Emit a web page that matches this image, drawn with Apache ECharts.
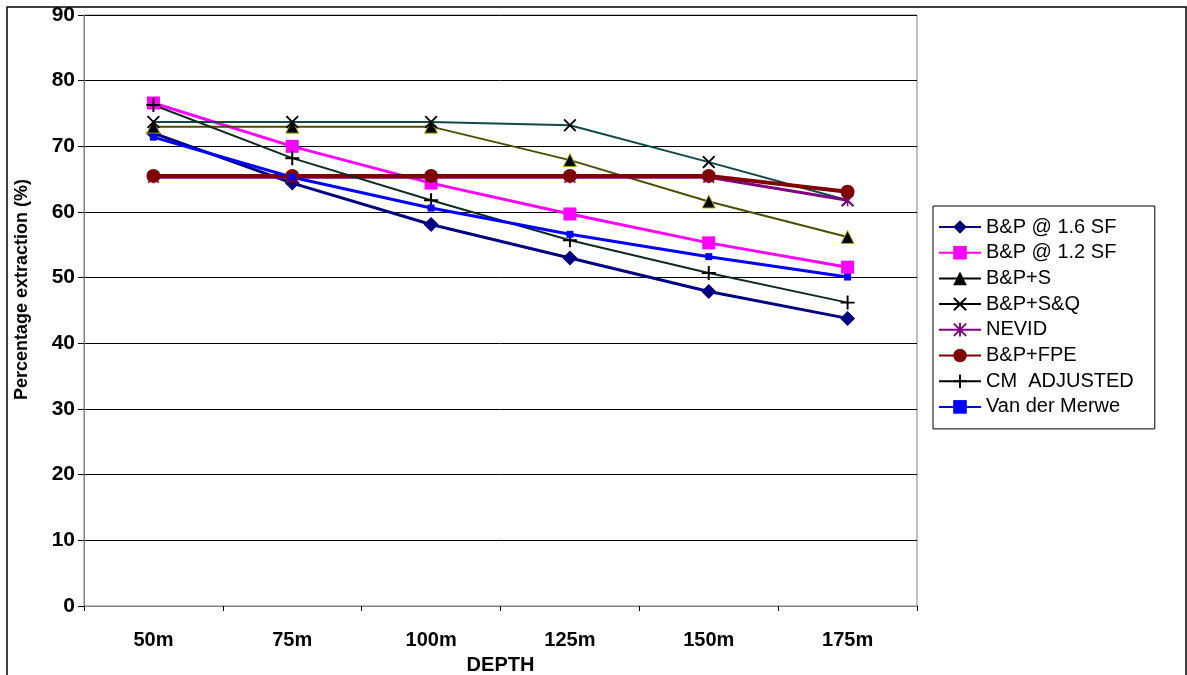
<!DOCTYPE html>
<html>
<head>
<meta charset="utf-8">
<script src="https://cdn.jsdelivr.net/npm/echarts@6/dist/echarts.min.js"></script>
<style>
html,body{margin:0;padding:0;background:#fff;}
#chart{width:1187px;height:675px;}
</style>
</head>
<body>
<div id="chart"></div>
<script>
// ---- data ----
var categories = ['50m', '75m', '100m', '125m', '150m', '175m'];
var yTicks = [0, 10, 20, 30, 40, 50, 60, 70, 80, 90];
var seriesNames = ['B&P @ 1.6 SF', 'B&P @ 1.2 SF', 'B&P+S', 'B&P+S&Q', 'NEVID', 'B&P+FPE', 'CM  ADJUSTED', 'Van der Merwe'];
var bp16 = [72.0, 64.4, 58.1, 53.0, 47.9, 43.8];
var bp12 = [76.6, 70.0, 64.4, 59.7, 55.3, 51.6];
var bpS = [73.0, 73.0, 73.0, 67.9, 61.6, 56.2];
var bpSQ = [73.7, 73.7, 73.7, 73.2, 67.6, 61.8];
var nevid = [65.3, 65.3, 65.3, 65.3, 65.3, 61.8];
var bpFPE = [65.5, 65.5, 65.5, 65.5, 65.5, 63.1];
var cmAdj = [76.3, 68.2, 61.8, 55.7, 50.7, 46.2];
var vanDerMerwe = [71.4, 65.3, 60.6, 56.6, 53.2, 50.1];

var X_PATH = 'path://M1,0 L10,9 L9,10 L0,1 Z M9,0 L10,1 L1,10 L0,9 Z';
var PLUS_PATH = 'path://M4.3,0 H5.7 V4.3 H10 V5.7 H5.7 V10 H4.3 V5.7 H0 V4.3 H4.3 Z';
var STAR_PATH = 'path://M1,0 L10,9 L9,10 L0,1 Z M9,0 L10,1 L1,10 L0,9 Z M4.3,0 L5.7,0 L5.7,10 L4.3,10 Z';

var FONT = '"Liberation Sans", Arial, sans-serif';

function mk(name, data, color, width, symbol, size, extraItem) {
  return {
    name: name, type: 'line', data: data,
    symbol: symbol, symbolSize: size, showSymbol: true,
    lineStyle: { color: color, width: width },
    itemStyle: Object.assign({ color: color, borderWidth: 0, opacity: 1 }, extraItem || {}),
    emphasis: { disabled: true },
    animation: false
  };
}

var series = [
  mk(seriesNames[0], bp16, '#000080', 3, 'diamond', 15),
  mk(seriesNames[1], bp12, '#ff00ff', 3, 'rect', 13),
  mk(seriesNames[2], bpS, '#4d4d00', 2, 'triangle', 13, { color: '#000000', borderColor: '#b5b500', borderWidth: 1 }),
  mk(seriesNames[3], bpSQ, '#104848', 2, X_PATH, 13, { color: '#000000' }),
  mk(seriesNames[4], nevid, '#800080', 3, STAR_PATH, 12),
  mk(seriesNames[5], bpFPE, '#800000', 4, 'circle', 14),
  mk(seriesNames[6], cmAdj, '#0f2a22', 2, PLUS_PATH, 14, { color: '#000000' }),
  mk(seriesNames[7], vanDerMerwe, '#0000ff', 3, 'rect', 7)
];

var legendData = seriesNames.map(function (n, i) {
  var d = { name: n };
  if (i === 2 || i === 3 || i === 6) {
    d.lineStyle = { color: '#000000', width: 2 };
    d.itemStyle = { color: '#000000', borderWidth: 0 };
  }
  return d;
});

var chart = echarts.init(document.getElementById('chart'), null, { renderer: 'canvas' });
chart.setOption({
  backgroundColor: '#ffffff',
  animation: false,
  textStyle: { fontFamily: FONT },
  grid: { left: 84, right: 270, top: 15, bottom: 69, containLabel: false, outerBoundsMode: 'none', show: true, borderColor: '#808080', borderWidth: 1, backgroundColor: 'transparent' },
  legend: {
    orient: 'vertical', left: 933, top: 206,
    padding: [11, 21, 12, 5],
    itemWidth: 42, itemHeight: 17, itemGap: 5.7,
    borderColor: '#000000', borderWidth: 1, backgroundColor: '#ffffff',
    textStyle: { fontFamily: FONT, fontSize: 20, color: '#000', lineHeight: 20 },
    data: legendData,
    selectedMode: false
  },
  xAxis: {
    type: 'category', data: categories, boundaryGap: true,
    name: 'DEPTH', nameLocation: 'middle', nameGap: 49,
    nameTextStyle: { fontFamily: FONT, fontSize: 20, fontWeight: 'bold', color: '#000' },
    axisLine: { show: true, lineStyle: { color: '#808080', width: 1 } },
    axisTick: { show: true, length: 5, inside: false, lineStyle: { color: '#000' } },
    axisLabel: { margin: 24, fontFamily: FONT, fontSize: 20, fontWeight: 'bold', color: '#000' },
    splitLine: { show: false }
  },
  yAxis: {
    type: 'value', min: yTicks[0], max: yTicks[yTicks.length - 1], interval: 10,
    name: 'Percentage extraction (%)', nameLocation: 'middle', nameGap: 53,
    nameTextStyle: { fontFamily: FONT, fontSize: 18, fontWeight: 'bold', color: '#000', padding: [0, 0, 0, 42] },
    axisLine: { show: true, lineStyle: { color: '#808080', width: 1 } },
    axisTick: { show: true, length: 6, lineStyle: { color: '#000' } },
    axisLabel: { margin: 9, fontFamily: FONT, fontSize: 21, fontWeight: 'bold', color: '#000' },
    splitLine: { show: true, lineStyle: { color: '#000', width: 1 } }
  },
  graphic: [{
    type: 'rect', silent: true, z: -1,
    shape: { x: 7, y: 7, width: 1179, height: 690 },
    style: { fill: 'none', stroke: '#000', lineWidth: 1.5 }
  }],
  series: series
});
</script>
</body>
</html>
